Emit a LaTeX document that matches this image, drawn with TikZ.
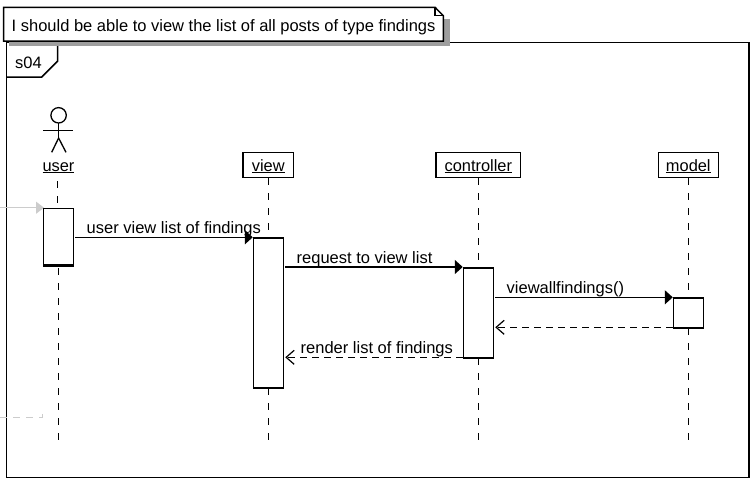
\documentclass[tikz,border=0pt]{standalone}
\usepackage{fontspec}
\setmainfont{Liberation Sans}
\usetikzlibrary{arrows.meta}
\definecolor{shadowgray}{gray}{0.62}
\definecolor{gatedgray}{gray}{0.8}
\tikzset{
  x=1pt,y=-1pt,
  line/.style={line width=1.5pt,black},
  life/.style={line width=1.5pt,black,dash pattern=on 7pt off 8pt},
  head/.style={draw,line width=1.5pt,fill=white,inner sep=0pt,minimum height=25pt,text height=13pt,text depth=1pt,font=\fontsize{16.4}{16}\selectfont,anchor=center},
  actv/.style={draw,line width=1.5pt,fill=white,inner sep=0pt,minimum width=30pt},
  lab/.style={inner sep=0pt,font=\fontsize{16.5}{16}\selectfont,anchor=base west},
  syncm/.style={line width=1.5pt,-{Triangle[length=8pt,width=14pt,black]}},
  retm/.style={line width=1.5pt,dash pattern=on 7pt off 5pt,-{Straight Barb[length=8pt,width=14pt,line width=1.2pt]}},
}
\begin{document}
\begin{tikzpicture}
\useasboundingbox (0,0) rectangle (751,480);
\fill[white] (0,0) rectangle (751,480);
% frame
\draw[line] (6.7,42.7) rectangle (749,477.3);
\draw[line] (6.7,77) -- (41.7,77) -- (57.5,61.3) -- (57.5,42.7);
\node[lab] (frametitle) at (15,68.5) {s04};
% note
\fill[shadowgray] (9,19) rectangle (449.5,46);
\draw[line,fill=white] (3.7,41) -- (3.7,7.3) -- (435,7.3) -- (443.3,15.7) -- (443.3,41) -- cycle;
\draw[line,line width=1.1pt] (435,7.3) -- (435,15.7) -- (443.3,15.7);
\node[lab] (note) at (11.5,31.5) {I should be able to view the list of all posts of type findings};
% actor
\draw[line width=1.3pt] (58.6,115.3) circle (7.7pt);
\coordinate (neck) at (58.6,123);
\coordinate (hip) at (58.6,138);
\draw[line width=1.3pt] (neck) -- (hip);
\draw[line width=1.3pt] (43.3,130.4) -- (73.4,130.4);
\draw[line width=1.3pt] (51.7,152.3) -- (hip) -- (66,152.3);
\node[lab,anchor=base] (user) at (58.5,171) {\fontsize{16.4}{16}\selectfont\underline{user}};
% headers
\node[head,minimum width=50.5pt] (view) at (268.3,165) {\underline{view}};
\node[head,minimum width=84.7pt] (controller) at (478.3,165) {\underline{controller}};
\node[head,minimum width=60pt] (model) at (688.3,165) {\underline{model}};
% lifelines
\coordinate (userstart) at (57.5,181);
\coordinate (userend) at (58.4,440);
\coordinate (viewend) at (268.3,440);
\coordinate (controllerend) at (478.3,440);
\coordinate (modelend) at (688.3,440);
\draw[life] (userstart) -- (57.5,207);
\draw[life] (58.4,268) -- (userend);
\draw[life] (view.south) -- (viewend);
\draw[life] (controller.south) -- (controllerend);
\draw[life] (model.south) -- (modelend);
% found / lost gate
\coordinate (gatein) at (0,207.7);
\coordinate (gateout) at (0,417.3);
\draw[gatedgray,line width=1.2pt,-{Triangle[length=8pt,width=12pt,gatedgray]}] (gatein) -- (44,207.7);
\draw[gatedgray,line width=1.2pt,dash pattern=on 7pt off 6pt] (gateout) -- (42.7,417.3) -- (42.7,413);
% activations
\node[actv,minimum height=56.6pt,anchor=north] (a1) at (58.5,207.7) {};
\draw[line width=2.6pt] (a1.south west) -- (a1.south east);
\node[actv,minimum height=150pt,anchor=north] (a2) at (268.5,237.3) {};
\node[actv,minimum height=90.3pt,anchor=north] (a3) at (478.5,267) {};
\node[actv,minimum height=30pt,anchor=north] (a4) at (688.5,297.3) {};
% messages
\draw[syncm] ([xshift=1pt]a1.east |- 0,237.3) -- (a2.west |- 0,237.3);
\draw[syncm] ([xshift=1pt]a2.east |- 0,267) -- (a3.west |- 0,267);
\draw[syncm] ([xshift=1pt]a3.east |- 0,297.3) -- (a4.west |- 0,297.3);
\draw[retm] (a4.west |- 0,327.3) -- ([xshift=1pt]a3.east |- 0,327.3);
\draw[retm] (a3.west |- 0,357.3) -- ([xshift=1pt]a2.east |- 0,357.3);
\node[lab] (m1) at (86.5,233) {user view list of findings};
\node[lab] (m2) at (296.5,263) {request to view list};
\node[lab] (m3) at (506.5,293) {viewallfindings()};
\node[lab] (m4) at (300.5,353) {render list of findings};
\end{tikzpicture}
\end{document}
